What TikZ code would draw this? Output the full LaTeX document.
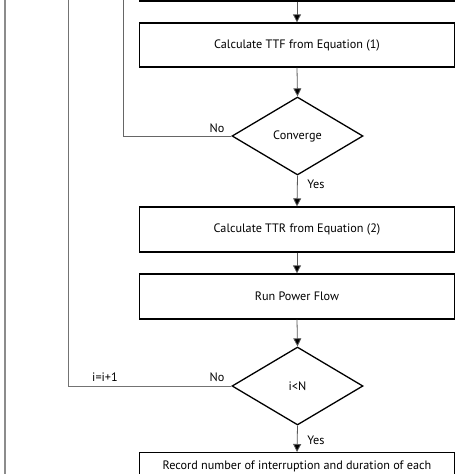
\documentclass[tikz,border=0pt]{standalone}
\usepackage{fontspec}
\setmainfont{PT Sans}
\usetikzlibrary{shapes.geometric,arrows.meta}
\begin{document}
\begin{tikzpicture}[x=1pt,y=-1pt,
  font=\fontsize{12.2}{13}\selectfont,
  box/.style={draw=black,line width=1.3pt,rectangle,minimum width=315pt,minimum height=44pt,inner sep=0pt},
  dec/.style={draw=black,line width=1.3pt,diamond,minimum width=131pt,minimum height=78pt,inner sep=0pt},
  flow/.style={draw=black!65,line width=0.8pt,-{Triangle[length=8pt,width=8pt,fill=black]}},
  back/.style={draw=black!55,line width=0.9pt},
  lbl/.style={inner sep=0pt}]
\useasboundingbox (0,0) rectangle (474,474);
\clip (0,0) rectangle (474,474);
\node[box] (top) at (297,-21) {};
\node[box] (ttf) at (297,45) {Calculate TTF from Equation (1)};
\node[dec] (conv) at (297.5,136) {Converge};
\node[box,minimum height=45pt] (ttr) at (297,229.5) {Calculate TTR from Equation (2)};
\node[box,minimum height=45pt] (pf) at (297,296.5) {Run Power Flow};
\node[dec] (ilt) at (297.5,386) {i<N};
\node[box,anchor=north,minimum height=0pt,inner ysep=8pt,text depth=20pt] (rec) at (297,452) {Record number of interruption and duration of each};
\coordinate (c1) at (123,136);
\coordinate (c1t) at (123,0);
\coordinate (c2) at (68,386);
\coordinate (c2t) at (68,0);
\coordinate (c3t) at (5,0);
\coordinate (c3b) at (5,474);
\draw[flow] (top.south) -- (ttf.north);
\draw[flow] (ttf.south) -- (conv.north);
\draw[flow] (conv.south) -- (ttr.north);
\draw[flow] (ttr.south) -- (pf.north);
\draw[flow] (pf.south) -- (ilt.north);
\draw[flow] (ilt.south) -- (rec.north);
\draw[back,draw=black!60] (conv.west) -- (c1) -- (c1t);
\draw[back] (ilt.west) -- (c2) -- (c2t);
\draw[back,draw=black!45,line width=1.3pt] (c3t) -- (c3b);
\node[lbl] (no1) at (217,128) {No};
\node[lbl] (yes1) at (316,184) {Yes};
\node[lbl] (no2) at (217,377) {No};
\node[lbl] (inc) at (105,377) {i=i+1};
\node[lbl] (yes2) at (316,440) {Yes};
\end{tikzpicture}
\end{document}
